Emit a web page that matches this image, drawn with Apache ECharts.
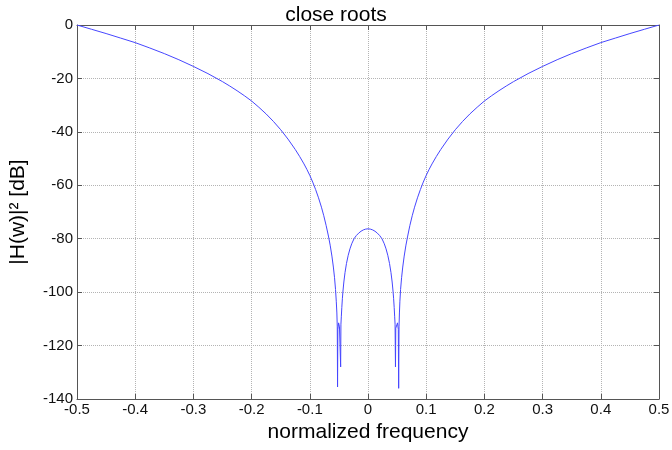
<!DOCTYPE html>
<html>
<head>
<meta charset="utf-8">
<script src="https://cdn.jsdelivr.net/npm/echarts@6/dist/echarts.min.js"></script>
<style>
  html, body { margin: 0; padding: 0; background: #fff; }
  #chart { width: 672px; height: 450px; }
</style>
</head>
<body>
<div id="chart"></div>
<script>
// normalized frequency samples
const freq = [
  -0.500, -0.475, -0.450, -0.425, -0.400, -0.375, -0.350, -0.325, -0.300, -0.275,
  -0.250, -0.2375, -0.225, -0.2125, -0.200, -0.1875, -0.175, -0.1625, -0.150, -0.1375,
  -0.125, -0.1175, -0.110, -0.105, -0.100, -0.095, -0.090, -0.085, -0.080, -0.076,
  -0.072, -0.068, -0.065, -0.062, -0.0595, -0.0575, -0.0558, -0.0545, -0.0535, -0.0528,
  -0.0523, -0.0518, -0.0505, -0.049, -0.0475, -0.047, -0.0465,
  -0.0458, -0.045, -0.044, -0.043, -0.0415, -0.0395, -0.037, -0.034, -0.031, -0.028,
  -0.024, -0.020, -0.016, -0.012, -0.008, -0.004, 0,
  0.004, 0.008, 0.012, 0.016, 0.020, 0.024,
  0.028, 0.031, 0.034, 0.037, 0.0395, 0.0415, 0.043, 0.044, 0.045, 0.0458,
  0.0465, 0.0472, 0.0477, 0.0492, 0.0507, 0.0521, 0.0527, 0.0533,
  0.0540, 0.0548, 0.0560, 0.0577, 0.0597, 0.0622, 0.0652, 0.0682,
  0.072, 0.076, 0.080, 0.085, 0.090, 0.095, 0.100, 0.105, 0.110, 0.1175,
  0.125, 0.1375, 0.150, 0.1625, 0.175, 0.1875, 0.200, 0.2125, 0.225, 0.2375, 0.250,
  0.275, 0.300, 0.325, 0.350, 0.375, 0.400, 0.425, 0.450, 0.475, 0.500
];
// |H(w)|^2 in dB at those frequencies
const gainDb = [
  0, -1.6, -3.2, -4.9, -6.6, -8.6, -10.7, -13.0, -15.5, -18.2,
  -21.2, -22.85, -24.6, -26.45, -28.45, -30.8, -33.3, -36.1, -39.2, -42.7,
  -46.6, -49.2, -52.0, -54.05, -56.3, -58.8, -61.6, -64.7, -68.2, -71.4,
  -75.0, -79.0, -82.4, -86.5, -90.6, -94.6, -99.0, -103.4, -107.8, -113,
  -135.5, -114, -111.5, -113, -113.5, -128, -112,
  -109, -105.8, -102.3, -99.6, -96.2, -92.7, -89.3, -86.2, -83.8, -81.9,
  -80.0, -78.8, -77.9, -77.2, -76.7, -76.4, -76.3,
  -76.4, -76.7, -77.2, -77.9, -78.8, -80.0,
  -81.9, -83.8, -86.2, -89.3, -92.7, -96.2, -99.6, -102.3, -105.8, -109,
  -112, -128, -113.5, -113, -111.5, -114, -136, -113,
  -107.8, -103.4, -99.0, -94.6, -90.6, -86.5, -82.4, -79.0,
  -75.0, -71.4, -68.2, -64.7, -61.6, -58.8, -56.3, -54.05, -52.0, -49.2,
  -46.6, -42.7, -39.2, -36.1, -33.3, -30.8, -28.45, -26.45, -24.6, -22.85, -21.2,
  -18.2, -15.5, -13.0, -10.7, -8.6, -6.6, -4.9, -3.2, -1.6, 0
];
const xTickLabels = ['-0.5', '-0.4', '-0.3', '-0.2', '-0.1', '0', '0.1', '0.2', '0.3', '0.4', '0.5'];
const yTickLabels = ['-140', '-120', '-100', '-80', '-60', '-40', '-20', '0'];

const font = 'Liberation Sans, Arial, sans-serif';
const axisColor = '#555';
const gridLine = { show: true, lineStyle: { color: '#b4b4b4', type: 'dotted', width: 1 } };
const frameLine = { show: true, onZero: false, lineStyle: { color: axisColor } };
const inTicks = { show: true, inside: true, length: 5, lineStyle: { color: axisColor } };

const chart = echarts.init(document.getElementById('chart'));
chart.setOption({
  backgroundColor: '#fff',
  animation: false,
  title: {
    text: 'close roots', left: 'center', top: 0,
    textStyle: { fontFamily: font, fontSize: 21, fontWeight: 'normal', color: '#000' }
  },
  grid: { left: 77, right: 13, top: 25, bottom: 51, outerBoundsMode: 'none' },
  xAxis: [
    {
      type: 'value', min: -0.5, max: 0.5, interval: 0.1, position: 'bottom',
      name: 'normalized frequency', nameLocation: 'middle', nameGap: 22,
      nameTextStyle: { fontFamily: font, fontSize: 21, color: '#000' },
      axisLine: frameLine, axisTick: inTicks,
      axisLabel: {
        fontFamily: font, fontSize: 15, color: '#111', margin: 3,
        formatter: v => xTickLabels[Math.round((v + 0.5) * 10)]
      },
      splitLine: gridLine
    },
    {
      type: 'value', min: -0.5, max: 0.5, interval: 0.1, position: 'top',
      axisLine: frameLine, axisTick: inTicks,
      axisLabel: { show: false }, splitLine: { show: false }
    }
  ],
  yAxis: [
    {
      type: 'value', min: -140, max: 0, interval: 20, position: 'left',
      name: '|H(w)|² [dB]', nameLocation: 'middle', nameGap: 48,
      nameTextStyle: { fontFamily: font, fontSize: 21, color: '#000' },
      axisLine: frameLine, axisTick: inTicks,
      axisLabel: {
        fontFamily: font, fontSize: 15, color: '#111', margin: 4,
        formatter: v => yTickLabels[Math.round((v + 140) / 20)]
      },
      splitLine: gridLine
    },
    {
      type: 'value', min: -140, max: 0, interval: 20, position: 'right',
      axisLine: frameLine, axisTick: inTicks,
      axisLabel: { show: false }, splitLine: { show: false }
    }
  ],
  series: [{
    type: 'line', xAxisIndex: 0, yAxisIndex: 0,
    data: freq.map((f, i) => [f, gainDb[i]]),
    showSymbol: false, smooth: false,
    lineStyle: { color: '#4646ff', width: 1 }
  }]
});
</script>
</body>
</html>
